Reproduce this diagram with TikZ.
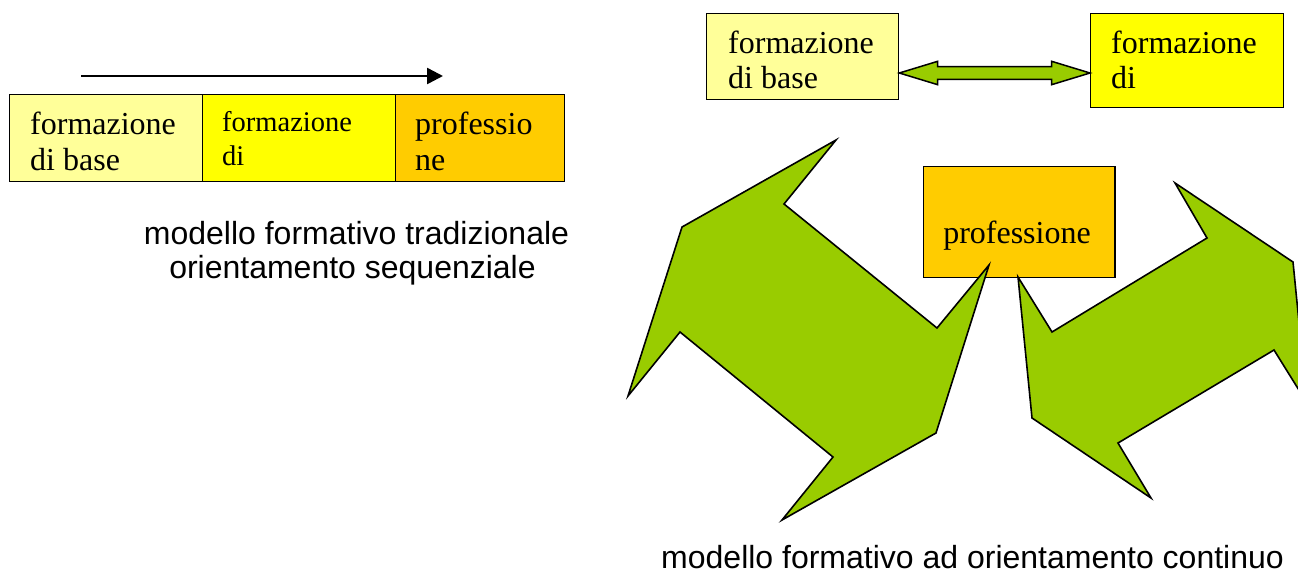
\documentclass[tikz,border=0pt]{standalone}
\usepackage{fontspec}
\setmainfont{Liberation Serif}
\setsansfont{Liberation Sans}
\usetikzlibrary{arrows.meta,calc}
\definecolor{lyel}{HTML}{FFFF99}
\definecolor{yel}{HTML}{FFFF00}
\definecolor{orng}{HTML}{FFCC00}
\definecolor{grn}{HTML}{99CC00}
\begin{document}
\begin{tikzpicture}[x=1pt,y=-1pt,
  box/.style={draw=black, line width=1.3pt, inner sep=0pt, anchor=north west},
  ser/.style={font=\fontsize{32}{36}\selectfont, inner sep=0pt, anchor=base west},
  sers/.style={font=\fontsize{28.5}{33}\selectfont, inner sep=0pt, anchor=base west},
  sans/.style={font=\sffamily\fontsize{32}{36}\selectfont, inner sep=0pt, anchor=base},
  grnshape/.style={fill=grn, draw=black, line width=1.6pt, line join=miter},
  grndbl/.style={fill=grn, draw=black, line width=1.5pt, line join=miter}]
\useasboundingbox (0,0) rectangle (1298,574);

% left: sequential model
\node[box, fill=lyel, minimum width=193pt, minimum height=87pt] (b1) at (9,94) {};
\node[box, fill=yel, minimum width=193pt, minimum height=87pt] (b2) at (202,94) {};
\node[box, fill=orng, minimum width=168.5pt, minimum height=87pt] (b3) at (395,94) {};
\node[ser] (b1a) at (30,134) {formazione};
\node[ser] (b1b) at (30,170) {di base};
\node[sers] (b2a) at (222,131.5) {formazione};
\node[sers] (b2b) at (222,165) {di};
\node[ser] (b3a) at (415,134) {professio};
\node[ser] (b3b) at (415,170) {ne};
\coordinate (as) at (81,76);
\coordinate (ae) at (443,76);
\draw[line width=2.5pt, -{Triangle[length=16pt,width=16pt]}] (as) -- (ae);
\node[sans] (c1) at (356.5,244) {modello formativo tradizionale};
\node[sans] (c2) at (352.5,278) {orientamento sequenziale};

% right: continuous model
\node[box, fill=lyel, minimum width=192pt, minimum height=86pt] (tl) at (706,13) {};
\node[box, fill=yel, minimum width=193pt, minimum height=94pt] (tr) at (1090,13) {};
\node[ser] (tla) at (728,53) {formazione};
\node[ser] (tlb) at (728,88) {di base};
\node[ser] (tra) at (1111,53) {formazione};
\node[ser] (trb) at (1111,88) {di};
\coordinate (dL) at (tl.east |- 0,73);
\coordinate (dR) at (tr.west |- 0,73);
\draw[grndbl] (dL) -- ++(38.4,-11.7) -- ++(0,5.4) -- ($(dR)+(-38.4,-6.3)$) -- ++(0,-5.4) -- (dR)
  -- ++(-38.4,11.7) -- ++(0,-5.4) -- ($(dL)+(38.4,6.3)$) -- ++(0,5.4) -- cycle;

\node[box, fill=orng, minimum width=191.5pt, minimum height=111pt] (pr) at (922.7,165.7) {};
\node[ser, anchor=base] (pra) at (1017,243.3) {professione};

\draw[grnshape] (836,140) -- (784,204) -- (937,328) -- (989,265) -- (936,433) -- (782,520)
  -- (833,457) -- (680,332) -- (628,396) -- (682,227) -- cycle;
\draw[grnshape] (1175,183) -- (1207,238) -- (1052,332) -- (1018,277) -- (1032,418) -- (1151,498)
  -- (1118,443) -- (1274,350) -- (1307,403) -- (1293,262) -- cycle;

\node[sans] (c3) at (972.5,568) {modello formativo ad orientamento continuo};
\end{tikzpicture}
\end{document}
